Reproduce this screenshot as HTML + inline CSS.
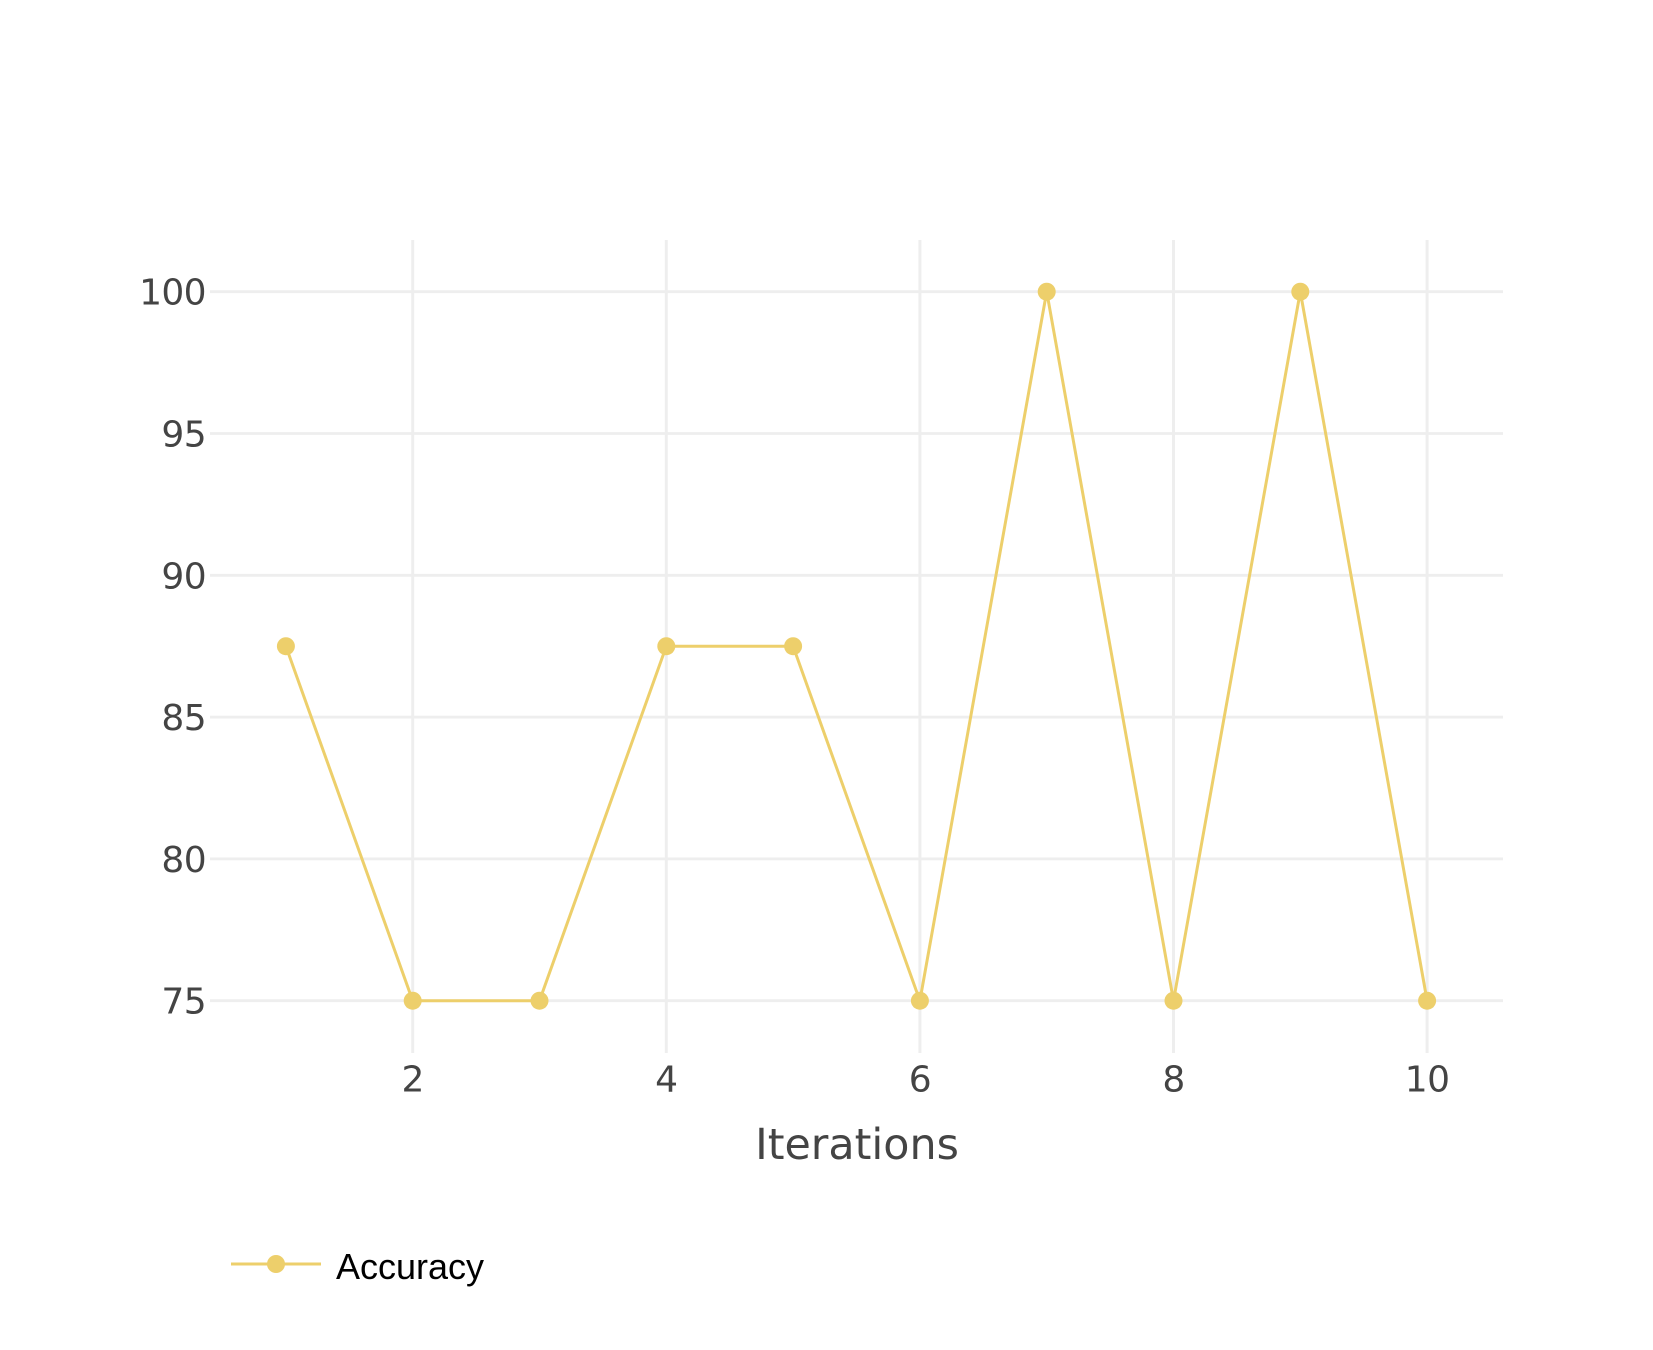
<!DOCTYPE html>
<html lang="en">
<head>
<meta charset="utf-8">
<title>Accuracy over iterations</title>
<style>
html,body{margin:0;padding:0;background:#fff;}
svg{display:block;}
text{font-family:"DejaVu Sans","Liberation Sans",sans-serif;fill:#444;}
</style>
</head>
<body>
<svg id="chart" xmlns="http://www.w3.org/2000/svg" width="1653" height="1350" viewBox="0 0 1653 1350">
  <text x="857" y="1159" font-size="42.8" text-anchor="middle">Iterations</text>
  <g>
    <line x1="231" x2="321" y1="1264" y2="1264" stroke="#edcf6b" stroke-width="3"/>
    <circle cx="276" cy="1264" r="9" fill="#edcf6b"/>
    <text x="336" y="1279" font-size="36" style="font-family:'Liberation Sans',sans-serif;fill:#000">Accuracy</text>
  </g>
</svg>
<script>
const xTickValues = [2, 4, 6, 8, 10];
const yTickValues = [75, 80, 85, 90, 95, 100];
const iterations = [1, 2, 3, 4, 5, 6, 7, 8, 9, 10];
const accuracy = [87.5, 75, 75, 87.5, 87.5, 75, 100, 75, 100, 75];

const NS = 'http://www.w3.org/2000/svg';
const svg = document.getElementById('chart');
const plot = { left: 210, right: 1503, top: 240, bottom: 1053 };
const LINE_COLOR = '#edcf6b';
const GRID_COLOR = '#eeeeee';

function xScale(v) { return 412.7 + (v - 2) * 126.8; }
function yScale(v) { return 1000.7 - (v - 75) * 28.36; }

function make(tag, attrs) {
  const el = document.createElementNS(NS, tag);
  Object.keys(attrs).forEach(function (k) { el.setAttribute(k, attrs[k]); });
  return el;
}

const gridGroup = make('g', {});


svg.insertBefore(gridGroup, svg.firstChild);

yTickValues.forEach(function (v) {
  const y = yScale(v);
  const line = make('line', { x1: plot.left, x2: plot.right, y1: y, y2: y, stroke: GRID_COLOR, 'stroke-width': 2.8 });
  
  
  gridGroup.appendChild(line);
  const label = make('text', { x: 206, y: y + 13, 'font-size': 36, 'letter-spacing': -0.6, 'text-anchor': 'end' });
  
  
  label.textContent = String(v);
  svg.appendChild(label);
});

xTickValues.forEach(function (v) {
  const x = xScale(v);
  const line = make('line', { x1: x, x2: x, y1: plot.top, y2: plot.bottom, stroke: GRID_COLOR, 'stroke-width': 3 });
  
  
  gridGroup.appendChild(line);
  const label = make('text', { x: x, y: 1091.5, 'font-size': 36, 'letter-spacing': -0.6, 'text-anchor': 'middle' });
  
  
  label.textContent = String(v);
  svg.appendChild(label);
});

const points = iterations.map(function (it, i) { return xScale(it) + ',' + yScale(accuracy[i]); }).join(' ');
const series = make('polyline', { points: points, fill: 'none', stroke: LINE_COLOR, 'stroke-width': 3, 'stroke-linejoin': 'round' });


svg.appendChild(series);

iterations.forEach(function (it, i) {
  const dot = make('circle', { cx: xScale(it), cy: yScale(accuracy[i]), r: 9, fill: LINE_COLOR });
  
  
  svg.appendChild(dot);
});
</script>
</body>
</html>
